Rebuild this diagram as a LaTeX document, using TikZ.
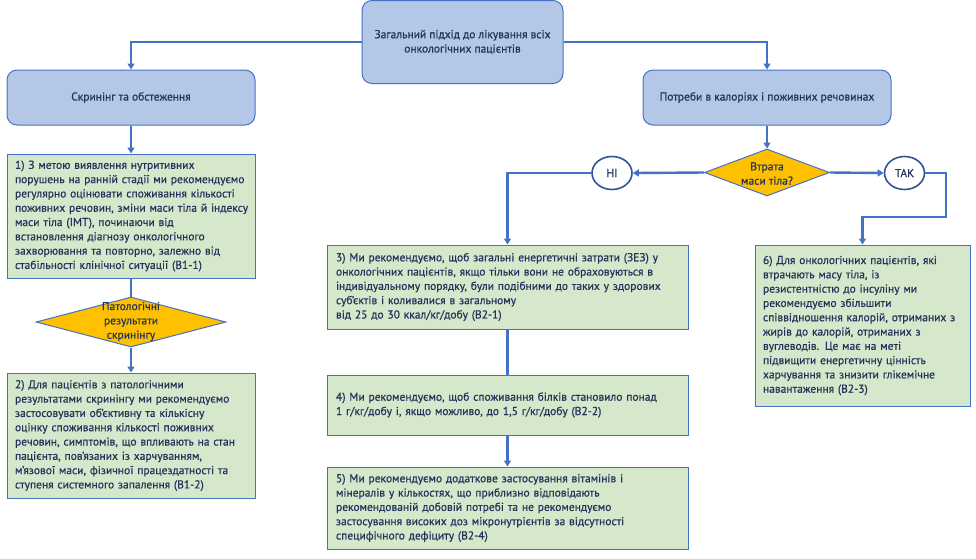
\documentclass[tikz,border=0pt]{standalone}
\usepackage{fontspec}
\setmainfont{PT Sans}[RawFeature={embolden=0.6}]
\usetikzlibrary{arrows.meta,shapes.geometric}
\definecolor{bfill}{HTML}{B4C7E7}
\definecolor{bline}{HTML}{4472C4}
\definecolor{gfill}{HTML}{D5E8CB}
\definecolor{gold}{HTML}{FFC000}
\definecolor{txt}{HTML}{22335A}
\definecolor{eline}{HTML}{2F5597}
\newcommand{\tlines}[1]{\begin{tabular}{@{}l@{}}#1\end{tabular}}
\tikzset{
  base/.style={font=\fontsize{11.5}{14.3}\selectfont, text=txt},
  bbox/.style={base, draw=bline, fill=bfill, line width=1pt, rounded corners=10pt, align=center, inner sep=0pt},
  gbox/.style={base, draw=bline, fill=gfill, line width=1pt, align=left, inner xsep=8pt, inner ysep=0pt},
  dia/.style={draw=bline, fill=gold, line width=1pt, diamond, inner sep=0pt},
  oval/.style={base, draw=eline, fill=white, line width=1.6pt, ellipse, inner sep=0pt, minimum width=40pt, minimum height=33pt},
  conn/.style={draw=bline, line width=2.4pt},
  arr/.style={conn, -{Triangle[width=7pt,length=6pt]}},
}
\begin{document}
\begin{tikzpicture}[x=1pt,y=-1pt]
\useasboundingbox[fill=white] (0,0) rectangle (976,558);
% blue boxes
\node[bbox, minimum width=201pt, minimum height=83pt] (top) at (462.5,42) {Загальний підхід до лікування всіх\\онкологічних пацієнтів};
\node[bbox, minimum width=248pt, minimum height=55pt] (screen) at (131,97.5) {Скринінг та обстеження};
\node[bbox, minimum width=248pt, minimum height=55pt] (calor) at (767,97.5) {Потреби в калоріях і поживних речовинах};
% diamonds
\node[dia, minimum width=125pt, minimum height=47pt] (d1) at (767,172.5) {};
\node[base, align=center] (d1t) at (767,173.5) {Втрата\\маси тіла?};
\node[dia, minimum width=190pt, minimum height=50pt] (d2) at (131,322) {};
\node[base, align=center] (d2t) at (131,321.5) {Патологічні\\результати\\скринінгу};
% ovals
\node[oval] (ni) at (612,173) {НІ};
\node[oval] (tak) at (904.5,173) {ТАК};
% green boxes
\node[gbox, text width=232pt, minimum height=124pt] (b1) at (131,216) {\tlines{1) З метою виявлення нутритивних\\порушень на ранній стадії ми рекомендуємо\\регулярно оцінювати споживання кількості\\поживних речовин, зміни маси тіла й індексу\\маси тіла (ІМТ), починаючи від\\встановлення діагнозу онкологічного\\захворювання та повторно, залежно від\\стабільності клінічної ситуації (В1-1)}};
\node[gbox, text width=232pt, minimum height=125pt] (b2) at (131,435.5) {\tlines{2) Для пацієнтів з патологічними\\результатами скринінгу ми рекомендуємо\\застосовувати об’єктивну та кількісну\\оцінку споживання кількості поживних\\речовин, симптомів, що впливають на стан\\пацієнта, пов’язаних із харчуванням,\\м’язової маси, фізичної працездатності та\\ступеня системного запалення (В1-2)}};
\node[gbox, text width=343pt, minimum height=84pt, inner xsep=9pt] (b3) at (507.5,287) {\tlines{3) Ми рекомендуємо, щоб загальні енергетичні затрати (ЗЕЗ) у\\онкологічних пацієнтів, якщо тільки вони не обраховуються в\\індивідуальному порядку, були подібними до таких у здорових\\суб’єктів і коливалися в загальному\\від 25 до 30 ккал/кг/добу (В2-1)}};
\node[gbox, text width=343pt, minimum height=60pt, inner xsep=9pt] (b4) at (507.5,405) {\tlines{4) Ми рекомендуємо, щоб споживання білків становило понад\\1 г/кг/добу і, якщо можливо, до 1,5 г/кг/добу (В2-2)}};
\node[gbox, text width=343pt, minimum height=82pt, inner xsep=9pt] (b5) at (507.5,508) {\tlines{5) Ми рекомендуємо додаткове застосування вітамінів і\\мінералів у кількостях, що приблизно відповідають\\рекомендованій добовій потребі та не рекомендуємо\\застосування високих доз мікронутрієнтів за відсутності\\специфічного дефіциту (В2-4)}};
\node[gbox, text width=199pt, minimum height=161pt] (b6) at (862.5,325.5) {\tlines{6) Для онкологічних пацієнтів, які\\втрачають масу тіла, із\\резистентністю до інсуліну ми\\рекомендуємо збільшити\\співвідношення калорій, отриманих з\\жирів до калорій, отриманих з\\вуглеводів. Це має на меті\\підвищити енергетичну цінність\\харчування та знизити глікемічне\\навантаження (В2-3)}};
% connectors
\coordinate (t1) at (946,217);
\draw[arr] (top.west) -| (screen.north);
\draw[arr] (top.east) -| (calor.north);
\draw[arr] (calor.south) -- (d1.north);
\draw[arr] (d1.west) -- (ni.east);
\draw[arr] (d1.east) -- (tak.west);
\draw[arr] (ni.west) -| (b3.north);
\draw[arr] (tak.east) -| (t1) -| (b6.north);
\draw[arr] (screen.south) -- (b1.north);
\draw[conn] (b1.south) -- (d2.north);
\draw[arr] (d2.south) -- (b2.north);
\draw[conn] (b3.south) -- (b4.north);
\draw[arr] (b4.south) -- (b5.north);
\end{tikzpicture}
\end{document}
